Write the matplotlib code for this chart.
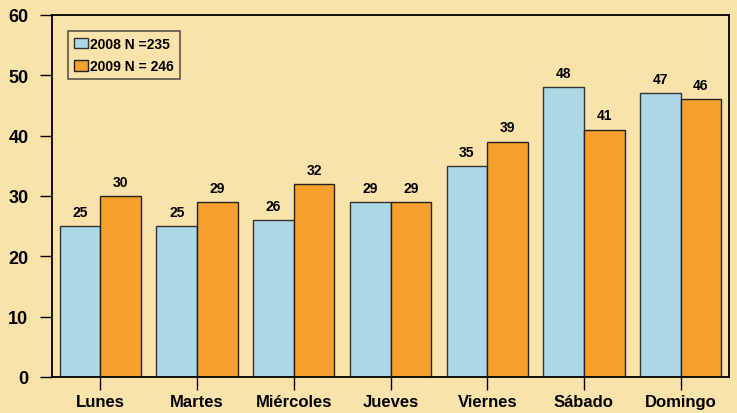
import matplotlib.pyplot as plt
import numpy as np

categories = ["Lunes", "Martes", "Miércoles", "Jueves", "Viernes", "Sábado", "Domingo"]
v2008 = [25, 25, 26, 29, 35, 48, 47]
v2009 = [30, 29, 32, 29, 39, 41, 46]
labels = ["2008 N =235", "2009 N = 246"]

plt.rcParams['font.family'] = ['Liberation Sans', 'DejaVu Sans']
plt.rcParams['font.weight'] = 'bold'

bg = '#F9E3AA'
c1 = '#ADD8E6'
c2 = '#F4A02B'

fig = plt.figure(figsize=(7.37, 4.14), dpi=100, facecolor=bg)
ax = fig.add_axes([52/737, 36/414, (729-52)/737, (378-16)/414])
ax.set_facecolor(bg)

x = np.arange(len(categories))
w = 0.42
b1 = ax.bar(x - w/2, v2008, w, color=c1, edgecolor='#333333', linewidth=1.0, label=labels[0])
b2 = ax.bar(x + w/2, v2009, w, color=c2, edgecolor='#222222', linewidth=1.0, label=labels[1])
for bars in (b1, b2):
    for r in bars:
        ax.text(r.get_x() + r.get_width()/2, r.get_height() + 1.2, f"{int(r.get_height())}",
                ha='center', va='bottom', fontsize=10, fontweight='bold')

ax.set_xlim(-0.5, len(categories) - 0.5)
ax.set_ylim(0, 60)
ax.set_yticks(range(0, 61, 10))
ax.set_xticks(x)
ax.set_xticklabels(categories)
ax.tick_params(axis='both', direction='out', length=9, width=1)
ax.tick_params(axis='x', labelsize=12, pad=3)
ax.tick_params(axis='y', labelsize=13, pad=8)
for s in ax.spines.values():
    s.set_linewidth(1.3)
    s.set_color('black')

leg = ax.legend(loc='upper left', bbox_to_anchor=(0.024, 0.955), frameon=True, fancybox=False,
                fontsize=10, handlelength=1.0, handleheight=0.8, handletextpad=0.2,
                borderpad=0.4, labelspacing=0.6, borderaxespad=0)
leg.get_frame().set_facecolor(bg)
leg.get_frame().set_edgecolor('#333333')
leg.get_frame().set_linewidth(1.2)
for t in leg.get_texts():
    t.set_fontweight('bold')

fig.savefig('out.png', dpi=100, facecolor=bg)
